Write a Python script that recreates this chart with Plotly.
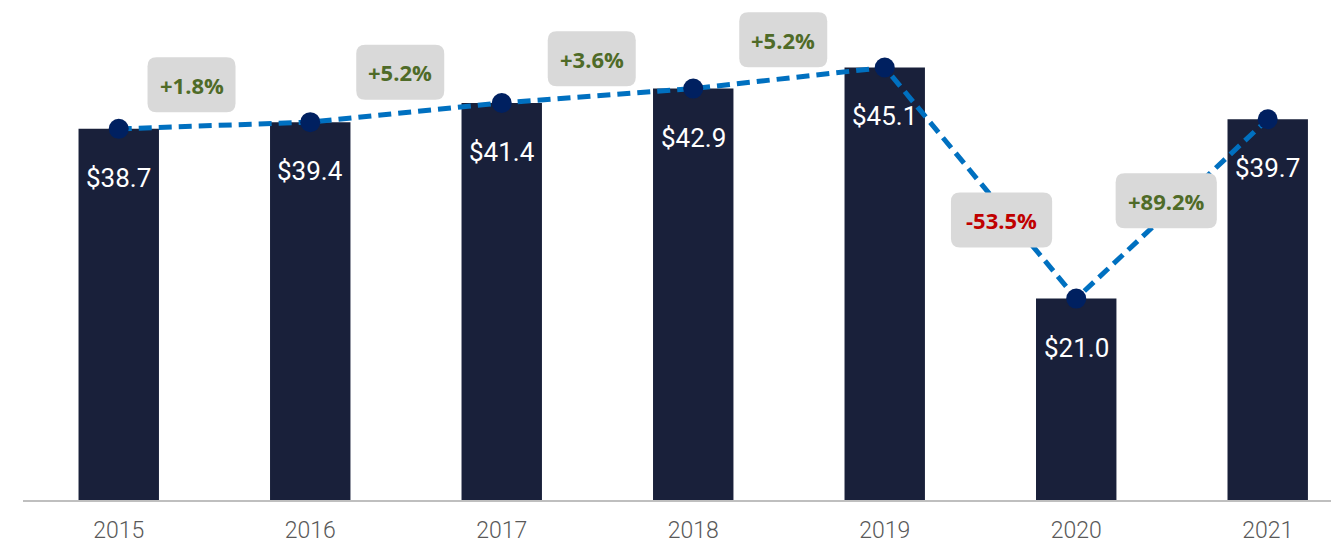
import plotly.graph_objects as go

# ---- data ----
years = ["2015", "2016", "2017", "2018", "2019", "2020", "2021"]
values = [38.7, 39.4, 41.4, 42.9, 45.1, 21.0, 39.7]
value_labels = ["$38.7", "$39.4", "$41.4", "$42.9", "$45.1", "$21.0", "$39.7"]
changes = ["+1.8%", "+5.2%", "+3.6%", "+5.2%", "-53.5%", "+89.2%"]

# ---- badge placement (category-index x, value-axis y) ----
badge_x = [0.38, 1.47, 2.47, 3.47, 4.61, 5.47]
badge_y = [43.3, 44.6, 46.0, 48.0, 29.2, 31.2]

BAR = "#19203a"
LINE = "#0070c0"
MARK = "#002060"
GREEN = "#4f6b28"
RED = "#c00000"
BADGE = "#d9d9d9"

xs = list(range(len(years)))

fig = go.Figure()
fig.add_trace(go.Bar(x=xs, y=values, width=0.42, marker=dict(color=BAR, line=dict(width=0)),
                     hoverinfo="skip", showlegend=False))
fig.add_trace(go.Scatter(x=xs, y=values, mode="lines+markers",
                         line=dict(color=LINE, width=5, dash="13px,7px"),
                         marker=dict(color=MARK, size=20),
                         hoverinfo="skip", showlegend=False))


def rounded(w, h, r):
    x0, x1, y0, y1 = -w / 2, w / 2, -h / 2, h / 2
    return (f"M {x0+r},{y0} L {x1-r},{y0} Q {x1},{y0} {x1},{y0+r} "
            f"L {x1},{y1-r} Q {x1},{y1} {x1-r},{y1} L {x0+r},{y1} "
            f"Q {x0},{y1} {x0},{y1-r} L {x0},{y0+r} Q {x0},{y0} {x0+r},{y0} Z")


shapes = []
annotations = []
for t, bx, by in zip(changes, badge_x, badge_y):
    w = 22 + 13.2 * len(t)
    shapes.append(dict(type="path", xref="x", yref="y", xsizemode="pixel", ysizemode="pixel",
                       xanchor=bx, yanchor=by, path=rounded(w, 55, 9),
                       fillcolor=BADGE, line=dict(width=0), layer="above"))
    annotations.append(dict(x=bx, y=by, xref="x", yref="y", text=f"<b>{t}</b>", showarrow=False,
                            font=dict(family="Open Sans", size=22,
                                      color=RED if t.startswith("-") else GREEN),
                            xanchor="center", yanchor="middle"))

for x, v, lab in zip(xs, values, value_labels):
    annotations.append(dict(x=x, y=v, xref="x", yref="y", text=lab, showarrow=False, yshift=-49,
                            font=dict(family="Roboto", size=26, color="white"),
                            xanchor="center", yanchor="middle"))

fig.update_layout(
    width=1339, height=542,
    margin=dict(l=15, r=0, t=0, b=50),
    plot_bgcolor="white", paper_bgcolor="white",
    shapes=shapes, annotations=annotations,
    xaxis=dict(range=[-0.5, 6.414], tickvals=xs, ticktext=years, showgrid=False, zeroline=False,
               showline=True, linecolor="#bfbfbf", linewidth=1.5, ticks="",
               ticklabelstandoff=9,
               tickfont=dict(family="Roboto", size=23, weight=300, color="#595959")),
    yaxis=dict(range=[0, 51.3], visible=False, showgrid=False, zeroline=False),
)

fig.write_html("out.html")
